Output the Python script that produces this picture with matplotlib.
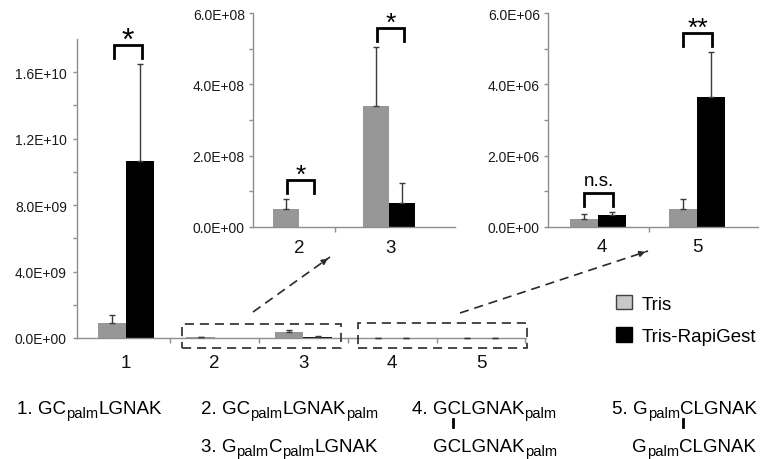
import re
import numpy as np
import matplotlib
matplotlib.use("Agg")
import matplotlib.pyplot as plt
from matplotlib.patches import Patch, Rectangle, FancyArrowPatch
from matplotlib.lines import Line2D
from matplotlib.transforms import offset_copy
from matplotlib.ticker import FuncFormatter

plt.rcParams['font.family'] = ['Liberation Sans', 'DejaVu Sans']

# ---------------- data ----------------
categories = ['1', '2', '3', '4', '5']
tris = [9.0e8, 5.05e7, 3.385e8, 2.2e5, 5.0e5]
tris_err = [4.8e8, 2.8e7, 1.675e8, 1.4e5, 2.85e5]
rapi = [1.066e10, 0.0, 6.6e7, 3.4e5, 3.655e6]
rapi_err = [5.82e9, 0.0, 5.7e7, 0.9e5, 1.245e6]
significance = ['*', '*', '*', 'n.s.', '**']
legend_labels = ['Tris', 'Tris-RapiGest']
peptide_line1 = ['1. GC_{palm}LGNAK',
                 '2. GC_{palm}LGNAK_{palm}',
                 '4. GCLGNAK_{palm}',
                 '5. G_{palm}CLGNAK']
peptide_line2 = ['',
                 '3. G_{palm}C_{palm}LGNAK',
                 'GCLGNAK_{palm}',
                 'G_{palm}CLGNAK']

GRAY = '#979797'
LEG_GRAY = '#c8c8c8'
SPINE = '#8e8e8e'
ECOL = '#3a3a3a'
W, H = 764, 460

fig = plt.figure(figsize=(W / 100, H / 100), dpi=100)


def px_axes(l, t, r, b):
    return fig.add_axes([l / W, 1 - b / H, (r - l) / W, (b - t) / H])


def style_axes(ax, ymax, major, minor, lab_pad, ylab_pad):
    for s in ['top', 'right']:
        ax.spines[s].set_visible(False)
    for s in ['left', 'bottom']:
        ax.spines[s].set_color(SPINE)
        ax.spines[s].set_linewidth(1.0)
    ax.set_facecolor('none')
    ax.set_ylim(0, ymax)
    ax.set_yticks(major)
    ax.set_yticks(minor, minor=True)
    ax.yaxis.set_major_formatter(FuncFormatter(lambda v, p: f"{v:.1E}"))
    ax.tick_params(axis='y', which='both', direction='out', length=3,
                   color=SPINE, width=1, labelsize=10, pad=ylab_pad,
                   labelcolor='#1a1a1a')
    ax.tick_params(axis='x', which='major', direction='out', length=3.5,
                   color=SPINE, width=1, labelbottom=False)
    ax.tick_params(axis='x', which='minor', length=0, labelsize=13.5,
                   pad=lab_pad, labelcolor='#111111')


def draw_bars(ax, idx, pos, width):
    pos = np.asarray(pos, dtype=float)
    t = np.array([tris[i] for i in idx])
    te = np.array([tris_err[i] for i in idx])
    r = np.array([rapi[i] for i in idx])
    re_ = np.array([rapi_err[i] for i in idx])
    ax.bar(pos - width / 2, t, width, color=GRAY, zorder=2)
    ax.bar(pos + width / 2, r, width, color='black', zorder=2)
    for x, v, e in list(zip(pos - width / 2, t, te)) + list(zip(pos + width / 2, r, re_)):
        if e > 0:
            ax.errorbar([x], [v], yerr=[[0], [e]], fmt='none', ecolor=ECOL,
                        elinewidth=1, capsize=2.5, capthick=1, zorder=3,
                        clip_on=False)
    return pos, t + te, r + re_


def bracket(ax, x0, x1, ytop, label, fs, text_dy):
    p = ax.transData.transform((x0, ytop))[1]
    inv = ax.transData.inverted()
    y_leg = inv.transform((0, p + 6))[1]
    y_top = inv.transform((0, p + 19))[1]
    ax.plot([x0, x0, x1, x1], [y_leg, y_top, y_top, y_leg], color='black',
            lw=2.0, solid_joinstyle='miter', clip_on=False, zorder=4)
    tt = offset_copy(ax.transData, fig=fig, x=0, y=text_dy, units='dots')
    ax.text((x0 + x1) / 2, y_top, label, transform=tt, ha='center',
            va='baseline', fontsize=fs, clip_on=False)


# ---------------- main axes ----------------
main = px_axes(77, 40, 526, 339)
style_axes(main, 1.8e10, np.arange(0, 1.61e10, 4e9), np.arange(2e9, 1.5e10, 4e9),
           lab_pad=11.5, ylab_pad=4.3)
main.set_xlim(-0.552, 4.507)
centers = np.arange(len(categories))
main.set_xticks(centers + 0.5)
main.set_xticks(centers, categories, minor=True)
pos, ttop, rtop = draw_bars(main, [0, 1, 2, 3, 4], centers, 0.32)
bracket(main, -0.14, 0.18, max(ttop[0], rtop[0]), significance[0], 23, -4)

# ---------------- inset 1 (peptides 2, 3) ----------------
ins1 = px_axes(253, 14, 455, 228)
style_axes(ins1, 6e8, np.arange(0, 6.01e8, 2e8), np.arange(1e8, 6e8, 2e8),
           lab_pad=8.5, ylab_pad=2.9)
ins1.set_xlim(-0.511, 1.733)
ins1.set_xticks([0.4])
ins1.set_xticks([0, 1.02], categories[1:3], minor=True)
pos, ttop, rtop = draw_bars(ins1, [1, 2], [0, 1], 0.29)
for k, i in enumerate([1, 2]):
    bracket(ins1, pos[k] - 0.133, pos[k] + 0.17, max(ttop[k], rtop[k]),
            significance[i], 19, -2)

# ---------------- inset 2 (peptides 4, 5) ----------------
ins2 = px_axes(548, 14, 758, 228)
style_axes(ins2, 6e6, np.arange(0, 6.01e6, 2e6), np.arange(1e6, 6e6, 2e6),
           lab_pad=8.0, ylab_pad=2.9)
ins2.set_xlim(-0.505, 1.616)
ins2.set_xticks([0.515])
ins2.set_xticks([0.04, 1.0], categories[3:5], minor=True)
pos, ttop, rtop = draw_bars(ins2, [3, 4], [0, 1], 0.28)
bracket(ins2, pos[0] - 0.141, pos[0] + 0.152, max(ttop[0], rtop[0]),
        significance[3], 13.5, 8)
bracket(ins2, pos[1] - 0.141, pos[1] + 0.152, max(ttop[1], rtop[1]),
        significance[4], 19, -2)


# ---------------- zoom boxes and arrows (figure pixel coords) ----------------
def fx(x):
    return x / W


def fy(y):
    return 1 - y / H


DASH = (0, (5.5, 3.5))
for (l, t, r, b) in [(182, 325, 341, 349), (358, 324, 527, 349)]:
    fig.patches.append(Rectangle((fx(l), fy(b)), fx(r) - fx(l), fy(t) - fy(b),
                                 transform=fig.transFigure, fill=False,
                                 edgecolor='#2a2a2a', lw=1.2,
                                 linestyle=DASH, zorder=5))

for (x0, y0, x1, y1) in [(253, 313, 330, 258), (460, 314, 648, 252)]:
    fig.add_artist(Line2D([fx(x0), fx(x1)], [fy(y0), fy(y1)],
                          transform=fig.transFigure, color='#2a2a2a', lw=1.2,
                          linestyle=DASH))
    d = np.array([x1 - x0, y1 - y0], float)
    d /= np.hypot(*d)
    xs, ys = x1 - 7 * d[0], y1 - 7 * d[1]
    fig.add_artist(FancyArrowPatch(
        (fx(xs), fy(ys)), (fx(x1), fy(y1)), transform=fig.transFigure,
        arrowstyle='-|>', mutation_scale=9, color='#2a2a2a', lw=1.0))

# ---------------- legend ----------------
handles = [Patch(facecolor=LEG_GRAY, edgecolor='#404040', lw=1.0),
           Patch(facecolor='black', edgecolor='black', lw=1.0)]
fig.legend(handles, legend_labels, loc='upper left',
           bbox_to_anchor=(fx(616), fy(296)), frameon=False, fontsize=13.5,
           handlelength=0.85, handleheight=0.8, handletextpad=0.53,
           labelspacing=0.78, borderpad=0, borderaxespad=0)

# ---------------- peptide labels (with palm subscripts) ----------------
renderer = fig.canvas.get_renderer()
MAIN_FS, SUB_FS, SUB_DROP = 13.5, 10.6, 4.0


def rich_text(x_px, base_px, s):
    parts = re.split(r'(_\{[^}]*\})', s)
    x = x_px
    for part in parts:
        if not part:
            continue
        if part.startswith('_{'):
            txt, fs, y = part[2:-1], SUB_FS, base_px + SUB_DROP
        else:
            txt, fs, y = part, MAIN_FS, base_px
        t = fig.text(fx(x), fy(y), txt, fontsize=fs, ha='left', va='baseline')
        x += t.get_window_extent(renderer=renderer).width


line1_x = [17, 201, 412, 612]
line2_x = [17, 201, 433, 632]
for s, x in zip(peptide_line1, line1_x):
    rich_text(x, 414, s)
for s, x in zip(peptide_line2, line2_x):
    if s:
        rich_text(x, 452, s)
for x in [453, 683]:
    fig.add_artist(Line2D([fx(x), fx(x)], [fy(420), fy(428)],
                          transform=fig.transFigure, color='black', lw=2))

fig.savefig('out.png', dpi=100)
